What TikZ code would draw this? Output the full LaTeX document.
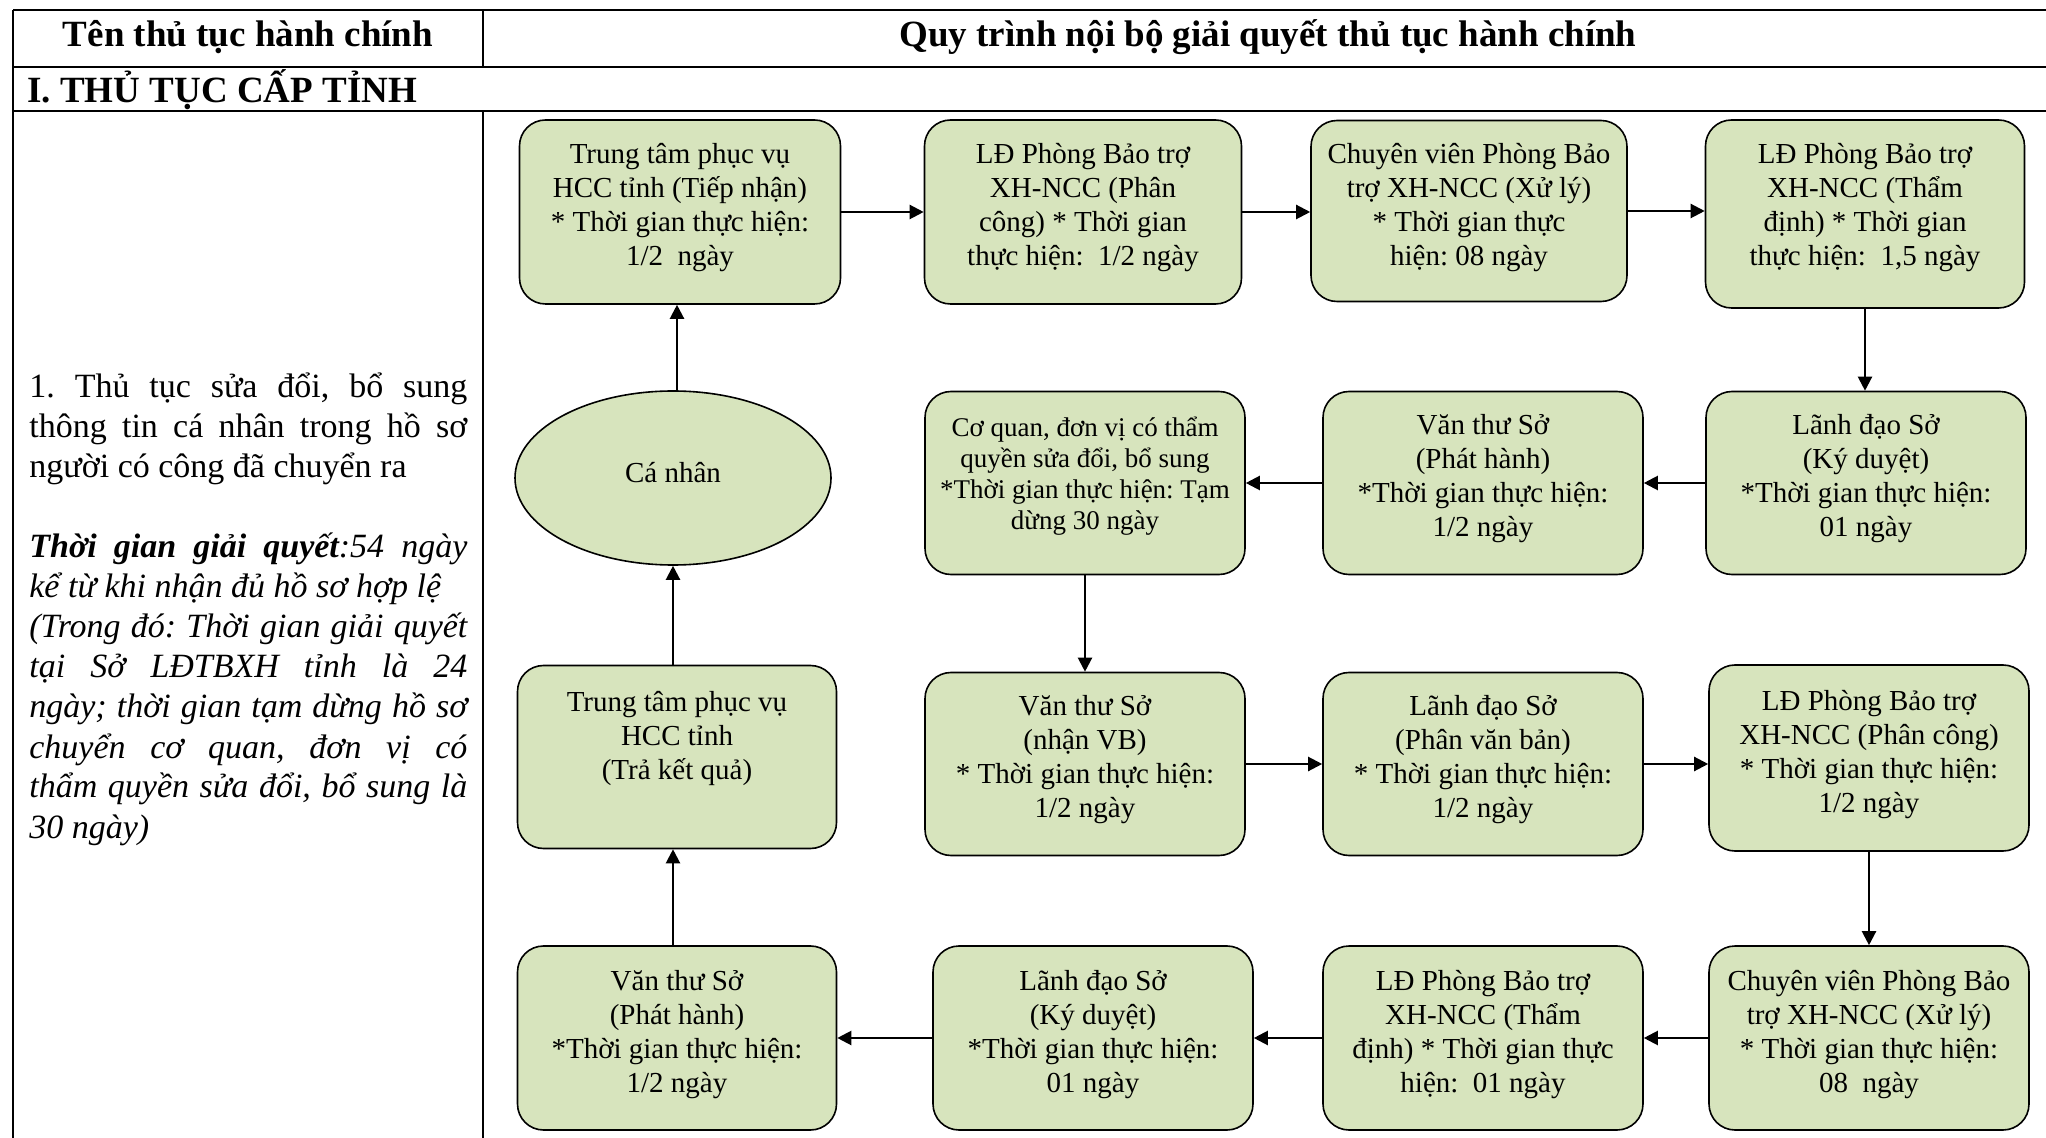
\documentclass[tikz,border=0pt]{standalone}
\usepackage{fontspec}
\setmainfont{Liberation Serif}
\usetikzlibrary{arrows.meta,shapes.geometric}
\definecolor{boxgreen}{HTML}{D7E4BD}
\frenchspacing
\begin{document}
\begin{tikzpicture}[x=0.5pt,y=-0.5pt,
  rule/.style={line width=1.3pt},
  box/.style={draw=black, line width=0.8pt, fill=boxgreen, rounded corners=13pt,
    minimum width=160pt, minimum height=91.5pt, inner sep=0pt},
  oval/.style={ellipse, draw=black, line width=0.8pt, fill=boxgreen,
    minimum width=158pt, minimum height=87pt, inner sep=0pt},
  txt/.style={align=center, font=\fontsize{14.5}{17}\selectfont, inner sep=0pt},
  arr/.style={-{Triangle[length=7pt,width=7pt]}, line width=1.1pt},
  lefttxt/.style={anchor=base west, inner sep=0pt, font=\fontsize{17}{20}\selectfont},
  head/.style={anchor=base, inner sep=0pt, font=\bfseries\fontsize{18.5}{22}\selectfont}
]
\useasboundingbox (0,0) rectangle (2046,1138);
% table
\draw[rule] (13,10) -- (2046,10);
\draw[rule] (13,67) -- (2046,67);
\draw[rule] (13,111) -- (2046,111);
\draw[rule] (13,10) -- (13,1138);
\draw[rule] (483,10) -- (483,67);
\draw[rule] (483,111) -- (483,1138);
\node[head] (h1) at (248,47) {Tên thủ tục hành chính};
\node[head] (h2) at (1268,47) {Quy trình nội bộ giải quyết thủ tục hành chính};
\node[head, anchor=base west] (sec) at (27,103) {I. THỦ TỤC CẤP TỈNH};
% left column
\def\jw{219pt}
\node[lefttxt] (l1) at (29,398) {\hbox to \jw{1. Thủ tục sửa đổi, bổ sung}};
\node[lefttxt] (l2) at (29,438) {\hbox to \jw{thông tin cá nhân trong hồ sơ}};
\node[lefttxt] (l3) at (29,478) {người có công đã chuyển ra};
\node[lefttxt] (l4) at (29,558) {\hbox to \jw{\itshape\textbf{Thời gian giải quyết}:54 ngày}};
\node[lefttxt] (l5) at (29,598) {\itshape kể từ khi nhận đủ hồ sơ hợp lệ};
\node[lefttxt] (l6) at (29,638) {\hbox to \jw{\itshape (Trong đó: Thời gian giải quyết}};
\node[lefttxt] (l7) at (29,678) {\hbox to \jw{\itshape tại Sở LĐTBXH tỉnh là 24}};
\node[lefttxt] (l8) at (29,718) {\hbox to \jw{\itshape ngày; thời gian tạm dừng hồ sơ}};
\node[lefttxt] (l9) at (29,758) {\hbox to \jw{\itshape chuyển cơ quan, đơn vị có}};
\node[lefttxt] (l10) at (29,798) {\hbox to \jw{\itshape thẩm quyền sửa đổi, bổ sung là}};
\node[lefttxt] (l11) at (29,838) {\itshape 30 ngày)};
% boxes row 1
\node[box, minimum width=160.5pt, minimum height=92pt] (B1) at (680,212) {};
\node[txt] (B1t) at (680,208) {Trung tâm phục vụ\\HCC tỉnh (Tiếp nhận)\\* Thời gian thực hiện:\\1/2\ \ ngày};
\node[box, minimum width=158.5pt, minimum height=92pt] (B2) at (1083,212) {};
\node[txt] (B2t) at (1083,208) {LĐ Phòng Bảo trợ\\XH-NCC (Phân\\công) * Thời gian\\thực hiện:\ \ 1/2 ngày};
\node[box, minimum width=158pt, minimum height=90.5pt] (B3) at (1469,211) {};
\node[txt] (B3t) at (1469,208) {Chuyên viên Phòng Bảo\\trợ XH-NCC (Xử lý)\\* Thời gian thực\\hiện: 08 ngày};
\node[box, minimum width=159.5pt, minimum height=94pt] (B4) at (1865,214) {};
\node[txt] (B4t) at (1865,208) {LĐ Phòng Bảo trợ\\XH-NCC (Thẩm\\định) * Thời gian\\thực hiện:\ \ 1,5 ngày};
% row 2
\node[oval] (E) at (673,478) {};
\node[txt] (Et) at (673,473) {Cá nhân};
\node[box] (B6) at (1085,483) {};
\node[txt, font=\fontsize{13.5}{15.5}\selectfont] (B6t) at (1085,476) {Cơ quan, đơn vị có thẩm\\quyền sửa đổi, bổ sung\\*Thời gian thực hiện: Tạm\\dừng 30 ngày};
\node[box] (B7) at (1483,483) {};
\node[txt] (B7t) at (1483,479) {Văn thư Sở\\(Phát hành)\\*Thời gian thực hiện:\\1/2 ngày};
\node[box] (B5) at (1866,483) {};
\node[txt] (B5t) at (1866,479) {Lãnh đạo Sở\\(Ký duyệt)\\*Thời gian thực hiện:\\01 ngày};
% row 3
\node[box, minimum width=159.5pt] (T) at (677,757) {};
\node[txt] (Tt) at (677,738) {Trung tâm phục vụ\\HCC tỉnh\\(Trả kết quả)};
\node[box] (B8) at (1085,764) {};
\node[txt] (B8t) at (1085,760) {Văn thư Sở\\(nhận VB)\\* Thời gian thực hiện:\\1/2 ngày};
\node[box] (B9) at (1483,764) {};
\node[txt] (B9t) at (1483,760) {Lãnh đạo Sở\\(Phân văn bản)\\* Thời gian thực hiện:\\1/2 ngày};
\node[box, minimum height=93pt] (B10) at (1869,758) {};
\node[txt] (B10t) at (1869,755) {LĐ Phòng Bảo trợ\\XH-NCC (Phân công)\\* Thời gian thực hiện:\\1/2 ngày};
% row 4
\node[box, minimum width=159.5pt, minimum height=92pt] (B14) at (677,1038) {};
\node[txt] (B14t) at (677,1035) {Văn thư Sở\\(Phát hành)\\*Thời gian thực hiện:\\1/2 ngày};
\node[box, minimum height=92pt] (B13) at (1093,1038) {};
\node[txt] (B13t) at (1093,1035) {Lãnh đạo Sở\\(Ký duyệt)\\*Thời gian thực hiện:\\01 ngày};
\node[box, minimum height=92pt] (B12) at (1483,1038) {};
\node[txt] (B12t) at (1483,1035) {LĐ Phòng Bảo trợ\\XH-NCC (Thẩm\\định) * Thời gian thực\\hiện:\ \ 01 ngày};
\node[box, minimum height=92pt] (B11) at (1869,1038) {};
\node[txt] (B11t) at (1869,1035) {Chuyên viên Phòng Bảo\\trợ XH-NCC (Xử lý)\\* Thời gian thực hiện:\\08\ \ ngày};
% connectors
\draw[arr] (B1.east) -- (B1.east -| B2.west);
\draw[arr] (B2.east) -- (B2.east -| B3.west);
\draw[arr] (B3.east) -- (B3.east -| B4.west);
\draw[arr] (B4.south) -- (B4.south |- B5.north);
\draw[arr] (B5.west) -- (B5.west -| B7.east);
\draw[arr] (B7.west) -- (B7.west -| B6.east);
\draw[arr] (B6.south) -- (B6.south |- B8.north);
\draw[arr] (B8.east) -- (B8.east -| B9.west);
\draw[arr] (B9.east) -- (B9.east -| B10.west);
\draw[arr] (B10.south) -- (B10.south |- B11.north);
\draw[arr] (B11.west) -- (B11.west -| B12.east);
\draw[arr] (B12.west) -- (B12.west -| B13.east);
\draw[arr] (B13.west) -- (B13.west -| B14.east);
\draw[arr] ([xshift=-2pt]B14.north) -- ([xshift=-2pt]B14.north |- T.south);
\draw[arr] ([xshift=-2pt]T.north) -- ([xshift=-2pt]T.north |- E.south);
\draw[arr] ([xshift=2pt]E.north) -- ([xshift=2pt]E.north |- B1.south);
\end{tikzpicture}
\end{document}
